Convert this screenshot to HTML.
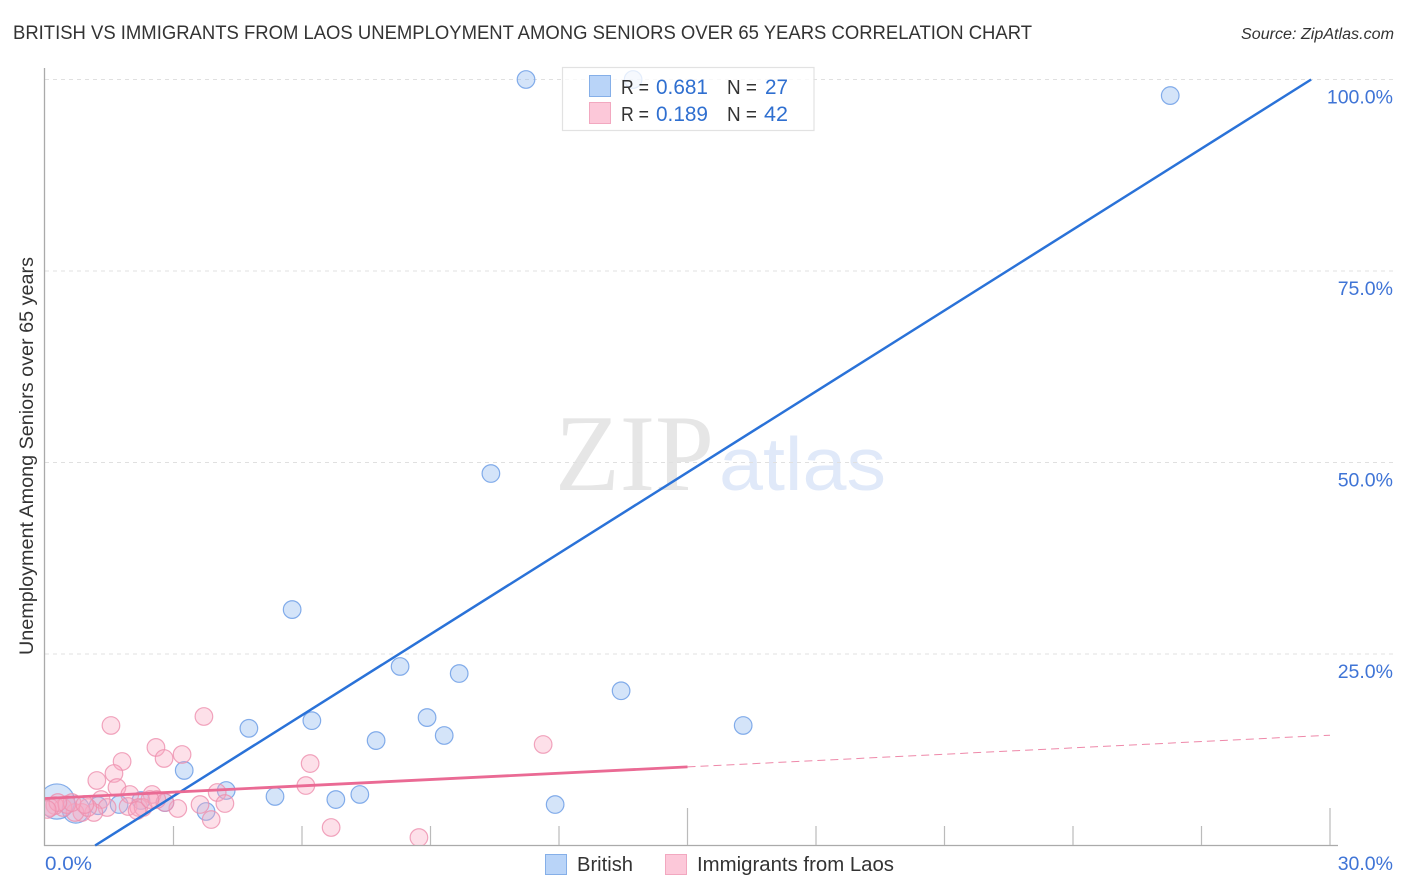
<!DOCTYPE html>
<html lang="en">
<head>
<meta charset="utf-8">
<title>British vs Immigrants from Laos Unemployment Among Seniors Correlation Chart</title>
<style>
  html, body { margin: 0; padding: 0; background: #fff; }
  svg { display: block; font-family: "Liberation Sans", sans-serif; }
</style>
</head>
<body>
<svg id="chart" width="1406" height="892" viewBox="0 0 1406 892" xmlns="http://www.w3.org/2000/svg">
  <defs>
    <clipPath id="plot-clip"><rect x="45" y="60" width="1360" height="785"></rect></clipPath>
  </defs>
  <text x="13" y="39" font-size="19.5" fill="#333" textLength="1019" lengthAdjust="spacingAndGlyphs">BRITISH VS IMMIGRANTS FROM LAOS UNEMPLOYMENT AMONG SENIORS OVER 65 YEARS CORRELATION CHART</text>
  <text x="1241" y="39" font-size="15.5" font-style="italic" fill="#333" textLength="153" lengthAdjust="spacingAndGlyphs">Source: ZipAtlas.com</text>

  <text x="555" y="490" font-family="'Liberation Serif', serif" font-size="109" fill="#e6e6e6" textLength="159" lengthAdjust="spacingAndGlyphs">ZIP</text>
  <text x="719" y="490" font-size="75" fill="#e0e9f9" textLength="167" lengthAdjust="spacingAndGlyphs">atlas</text>

  <g id="grid"></g>
  <g id="axes"></g>
  <g id="points-british" clip-path="url(#plot-clip)"></g>
  <g id="points-laos" clip-path="url(#plot-clip)"></g>
  <g id="trends"></g>
  <g id="labels"></g>

  <text transform="translate(33,456) rotate(-90)" text-anchor="middle" font-size="19" fill="#333" textLength="398" lengthAdjust="spacingAndGlyphs">Unemployment Among Seniors over 65 years</text>

  <g>
    <rect x="562.5" y="67.5" width="251.5" height="63" fill="#fff" fill-opacity="0.78" stroke="#e2e2e2" stroke-width="1.2"></rect>
    <rect x="589.5" y="75.5" width="21" height="21" fill="#b9d4f8" stroke="#85afe8"></rect>
    <rect x="589.5" y="102.5" width="21" height="21" fill="#fcc8d9" stroke="#f2a8c0"></rect>
    <g font-size="20" fill="#333">
      <text x="621" y="94" textLength="28" lengthAdjust="spacingAndGlyphs">R =</text>
      <text x="727" y="94" textLength="30" lengthAdjust="spacingAndGlyphs">N =</text>
      <text x="621" y="121" textLength="28" lengthAdjust="spacingAndGlyphs">R =</text>
      <text x="727" y="121" textLength="30" lengthAdjust="spacingAndGlyphs">N =</text>
    </g>
    <g font-size="21" fill="#2f6fd0">
      <text x="656" y="94" textLength="52" lengthAdjust="spacingAndGlyphs">0.681</text>
      <text x="765" y="94" textLength="23" lengthAdjust="spacingAndGlyphs">27</text>
      <text x="656" y="121" textLength="52" lengthAdjust="spacingAndGlyphs">0.189</text>
      <text x="764" y="121" textLength="24" lengthAdjust="spacingAndGlyphs">42</text>
    </g>
  </g>

  <g>
    <rect x="545.5" y="854.5" width="21" height="20" fill="#b9d4f8" stroke="#85afe8"></rect>
    <text x="577" y="871" font-size="20" fill="#333" textLength="56" lengthAdjust="spacingAndGlyphs">British</text>
    <rect x="665.5" y="854.5" width="21" height="20" fill="#fcc8d9" stroke="#f2a8c0"></rect>
    <text x="697" y="871" font-size="20" fill="#333" textLength="197" lengthAdjust="spacingAndGlyphs">Immigrants from Laos</text>
  </g>
</svg>
<script>
const yTickValues = [25, 50, 75, 100];
const yTickLabels = ["25.0%", "50.0%", "75.0%", "100.0%"];
const xTickValues = [3, 6, 9, 12, 15, 18, 21, 24, 27, 30];
const xMajorTicks = [15, 30];
const xEndLabels = ["0.0%", "30.0%"];

const britishX = [11.23, 13.73, 26.27, 10.41, 5.77, 8.29, 9.67, 13.45, 16.3, 8.92, 6.23, 4.76, 9.32, 7.73, 3.25, 4.23, 5.37, 6.79, 7.35, 11.91, 3.76, 2.8, 2.24, 1.73, 1.24, 0.72, 0.28];
const britishY = [100, 100, 97.9, 48.56, 30.8, 23.37, 22.45, 20.2, 15.67, 16.7, 16.3, 15.3, 14.36, 13.7, 9.8, 7.18, 6.4, 6.0, 6.66, 5.35, 4.44, 5.6, 5.87, 5.35, 5.2, 4.7, 5.74];
const britishWeight = [1, 1, 1, 1, 1, 1, 1, 1, 1, 1, 1, 1, 1, 1, 1, 1, 1, 1, 1, 1, 1, 1, 1, 1, 1, 2.4, 4];

const laosX = [1.54, 3.71, 2.59, 2.78, 3.2, 1.8, 1.61, 1.21, 6.19, 6.09, 6.68, 1.68, 1.31, 1.98, 2.5, 4.02, 4.2, 3.62, 3.88, 3.1, 1.94, 1.45, 1.14, 2.19, 2.29, 2.15, 2.8, 2.61, 0.86, 0.7, 0.42, 0.23, 0.12, 0.51, 1.0, 11.63, 8.73, 0.63, 0.3, 0.05, 0.93, 2.45];
const laosY = [15.67, 16.84, 12.8, 11.36, 11.88, 10.97, 9.4, 8.49, 10.7, 7.83, 2.35, 7.57, 6.0, 6.66, 6.66, 6.92, 5.48, 5.35, 3.39, 4.83, 5.09, 4.96, 4.31, 4.96, 4.96, 4.57, 5.61, 6.0, 4.31, 4.31, 4.96, 5.22, 4.96, 5.35, 4.96, 13.19, 1.04, 5.61, 5.61, 4.7, 5.35, 6.0];

const britishTrendX = [1.17, 29.56];
const britishTrendY = [0, 100];
const laosTrendX = [0, 15, 30];
const laosTrendY = [6.14, 10.26, 14.4];

const SVG_NS = "http://www.w3.org/2000/svg";
function xScale(v) { return 45 + v * (1285 / 30); }
function yScale(v) { return 845.5 - v * (766 / 100); }
function make(tag, parentId, attrs) {
  const el = document.createElementNS(SVG_NS, tag);
  for (const k in attrs) el.setAttribute(k, attrs[k]);
  document.getElementById(parentId).appendChild(el);
  return el;
}

yTickValues.forEach(function (v, i) {
  const g = make("line", "grid", { x1: 45, x2: 1393, y1: yScale(v), y2: yScale(v), stroke: "#e0e0e0", "stroke-width": 1, "stroke-dasharray": "4 4" });
  
  
  const t = make("text", "labels", { x: 1393, y: yScale(v) + 24, "text-anchor": "end", "font-size": 19.5, fill: "#3f74d6" });
  t.textContent = yTickLabels[i];
  
  
});

const yAxis = make("line", "axes", { x1: 44.5, x2: 44.5, y1: 68, y2: 846, stroke: "#aaa", "stroke-width": 1.3 });


const xAxis = make("line", "axes", { x1: 44, x2: 1338, y1: 845.5, y2: 845.5, stroke: "#aaa", "stroke-width": 1.3 });



xTickValues.forEach(function (v) {
  const major = xMajorTicks.indexOf(v) !== -1;
  const tick = make("line", "axes", { x1: xScale(v), x2: xScale(v), y1: major ? 808 : 826, y2: 845, stroke: "#bbb", "stroke-width": 1.2 });
  
  
});

const xLabelStart = make("text", "labels", { x: 45, y: 870, "font-size": 19.5, fill: "#3f74d6", textLength: 47, lengthAdjust: "spacingAndGlyphs" });
xLabelStart.textContent = xEndLabels[0];


const xLabelEnd = make("text", "labels", { x: 1393, y: 870, "text-anchor": "end", "font-size": 19.5, fill: "#3f74d6" });
xLabelEnd.textContent = xEndLabels[1];



britishX.forEach(function (v, i) {
  const c = make("circle", "points-british", { cx: xScale(v), cy: yScale(britishY[i]), r: 8.8 * Math.sqrt(britishWeight[i]), fill: "#8fb8f0", "fill-opacity": 0.38, stroke: "#6f9fe6", "stroke-opacity": 0.85, "stroke-width": 1.2 });
  
  
});

laosX.forEach(function (v, i) {
  const c = make("circle", "points-laos", { cx: xScale(v), cy: yScale(laosY[i]), r: 8.8, fill: "#f9a9c2", "fill-opacity": 0.36, stroke: "#ee8fae", "stroke-opacity": 0.8, "stroke-width": 1.2 });
  
  
});

const blueLine = make("line", "trends", { x1: xScale(britishTrendX[0]), y1: yScale(britishTrendY[0]), x2: xScale(britishTrendX[1]), y2: yScale(britishTrendY[1]), stroke: "#2a72d8", "stroke-width": 2.5 });


const pinkLine = make("line", "trends", { x1: xScale(laosTrendX[0]), y1: yScale(laosTrendY[0]), x2: xScale(laosTrendX[1]), y2: yScale(laosTrendY[1]), stroke: "#ea6a94", "stroke-width": 2.8 });


const pinkDash = make("line", "trends", { x1: xScale(laosTrendX[1]), y1: yScale(laosTrendY[1]), x2: xScale(laosTrendX[2]), y2: yScale(laosTrendY[2]), stroke: "#ea6a94", "stroke-width": 1, "stroke-dasharray": "8 5", "stroke-opacity": 0.8 });


</script>
</body>
</html>
